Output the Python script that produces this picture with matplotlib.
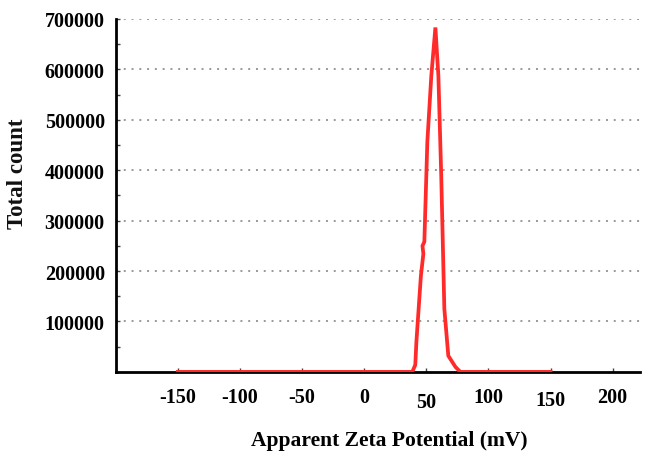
import matplotlib.pyplot as plt
from matplotlib.ticker import MultipleLocator
import matplotlib.transforms as mtransforms

# zeta potential distribution
zeta_mv = [-150, 38.7, 41.1, 42.0, 45.6, 47.6, 46.9, 48.4, 50.8, 54.0, 57.3,
           59.7, 62.0, 64.5, 67.7, 73.4, 77.4, 150]
total_count = [0, 0, 14000, 60000, 190000, 234000, 250000, 258000, 456000, 587000, 683000,
               587000, 389000, 125000, 32000, 10000, 0, 0]

x_ticks = [-150, -100, -50, 0, 50, 100, 150, 200]
y_ticks = [100000, 200000, 300000, 400000, 500000, 600000, 700000]

plt.rcParams['font.family'] = ['Liberation Serif', 'DejaVu Serif']
plt.rcParams['font.weight'] = 'bold'

fig = plt.figure(figsize=(6.51, 4.52), dpi=100)
ax = fig.add_axes([0.178, 0.175, 0.805, 0.781])

ax.plot(zeta_mv, total_count, color='#ff2a2a', lw=2.7, zorder=3, solid_joinstyle='miter')

ax.set_xlim(-200, 222)
ax.set_ylim(0, 700000)
ax.set_xticks(x_ticks)
ax.set_yticks(y_ticks)
ax.yaxis.set_minor_locator(MultipleLocator(50000))
ax.set_xticklabels([str(v) for v in x_ticks], fontsize=14.5, fontweight='bold')
ax.set_yticklabels([str(v) for v in y_ticks], fontsize=14.5, fontweight='bold')
ax.tick_params(axis='both', which='both', direction='in', length=3, width=1, color='#444444')
ax.tick_params(axis='x', pad=11)
ax.tick_params(axis='y', pad=8)

# the 50 and 150 labels sit a bit lower in the original
shift = {50: -3.5, 150: -2}
for lab, v in zip(ax.get_xticklabels(), x_ticks):
    if v in shift:
        lab.set_transform(lab.get_transform() + mtransforms.ScaledTranslation(0, shift[v] / 72, fig.dpi_scale_trans))

ax.grid(axis='y', linestyle=(0, (1, 3)), color='#999999', lw=1.4)
ax.set_axisbelow(True)

for side in ['top', 'right']:
    ax.spines[side].set_visible(False)
for side in ['left', 'bottom']:
    ax.spines[side].set_linewidth(2)
    ax.spines[side].set_color('black')

ax.set_xlabel('Apparent Zeta Potential (mV)', fontsize=15.5, fontweight='bold')
ax.set_ylabel('Total count', fontsize=16.5, fontweight='bold', color='#111111')
ax.xaxis.set_label_coords(0.521, -0.165)
ax.yaxis.set_label_coords(-0.168, 0.565)

fig.savefig('out.png', dpi=100)
